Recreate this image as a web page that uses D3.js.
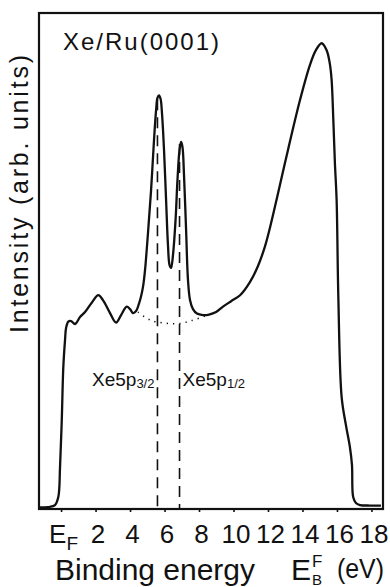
<!DOCTYPE html>
<html>
<head>
<meta charset="utf-8">
<script src="https://cdn.jsdelivr.net/npm/d3@7"></script>
<style>
  html, body { margin: 0; padding: 0; background: #fff; }
  svg { display: block; }
  text { fill: #111; font-family: "Liberation Sans", Arial, sans-serif; }
</style>
</head>
<body>
<svg id="chart" width="390" height="587"></svg>
<script>
// Photoemission spectrum of Xe adsorbed on Ru(0001)
const energy = [
  -1.28, -0.75, -0.35, -0.16, -0.06, 0.04, 0.13, 0.23, 0.29, 0.42, 0.58, 0.81,
  1.10, 1.39, 1.80, 2.16, 2.43, 2.84, 3.19, 3.48, 3.81, 4.00, 4.17, 4.35, 4.49,
  4.64, 4.77, 4.87, 5.04, 5.22, 5.39, 5.51, 5.59, 5.68, 5.77, 5.86, 5.97, 6.09,
  6.20, 6.29, 6.38, 6.49, 6.64, 6.75, 6.87, 6.96, 7.04, 7.13, 7.25, 7.36, 7.48,
  7.65, 7.88, 8.23, 8.58, 8.99, 9.39, 9.86, 10.38, 10.96, 11.42, 11.83, 12.17,
  12.52, 13.16, 13.86, 14.43, 14.78, 15.11, 15.40, 15.59, 15.69, 15.79, 15.88,
  15.98, 16.08, 16.27, 16.52, 16.75, 16.87, 16.94, 17.10, 17.33, 17.91, 18.55
];
const intensity = [
  0.3, 0.4, 0.8, 2.4, 8.5, 17.9, 28.6, 34.1, 36.5, 37.8, 37.9, 37.3,
  38.7, 39.7, 41.7, 43.1, 42.1, 39.5, 37.6, 39.1, 40.8, 40.3, 39.5, 39.9, 41.1,
  42.9, 45.2, 48.2, 55.6, 64.3, 74.4, 80.4, 82.9, 83.4, 82.7, 79.4, 72.4, 62.3,
  53.2, 49.2, 48.6, 51.2, 58.3, 66.3, 72.4, 74.0, 73.0, 67.3, 56.3, 46.2, 42.1,
  40.3, 39.4, 39.1, 39.2, 39.7, 40.8, 41.9, 43.1, 45.8, 49.0, 53.0, 57.5,
  62.7, 72.4, 82.5, 89.5, 92.5, 93.9, 92.5, 89.7, 86.5, 78.4, 69.8,
  62.3, 42.7, 22.6, 16.9, 12.5, 8.9, 2.4, 1.2, 0.8, 0.7, 0.7
];

// Estimated secondary background beneath the Xe 5p doublet
const bgEnergy = [4.46, 5.16, 5.74, 6.32, 6.90, 7.59, 8.52];
const bgIntensity = [39.7, 38.1, 37.6, 37.4, 37.4, 38.0, 39.1];

// Xe 5p spin-orbit components
const peakEnergy = [5.59, 6.87];
const peakTop = [82.6, 73.6];
const peakJ = ["3/2", "1/2"];

// Energy axis
const tickValues = [0, 2, 4, 6, 8, 10, 12, 14, 16, 18];
const tickLabels = ["E", "2", "4", "6", "8", "10", "12", "14", "16", "18"];
const energyExtent = [-1.28, 18.67];
const intensityExtent = [0, 100];

const svg = d3.select("#chart");
const frame = { left: 39, right: 383, top: 13, bottom: 509 };

const x = d3.scaleLinear().domain(energyExtent).range([frame.left, frame.right]);
const y = d3.scaleLinear().domain(intensityExtent).range([frame.bottom, frame.top]);

// dashed markers at the doublet positions
svg.append("g")
  .selectAll("line")
  .data(peakEnergy)
  .join("line")
  .attr("x1", d => x(d)).attr("x2", d => x(d))
  .attr("y1", (d, i) => y(peakTop[i]))
  .attr("y2", y(0))
  .attr("stroke", "#111")
  .attr("stroke-width", 1.6)
  .attr("stroke-dasharray", "11,7");

// background (dotted)
svg.append("path")
  .datum(d3.zip(bgEnergy, bgIntensity))
  .attr("fill", "none")
  .attr("stroke", "#111")
  .attr("stroke-width", 1.5)
  .attr("stroke-dasharray", "1.3,5")
  .attr("d", d3.line().x(d => x(d[0])).y(d => y(d[1])).curve(d3.curveCatmullRom.alpha(0.5)));

// spectrum
svg.append("path")
  .datum(d3.zip(energy, intensity))
  .attr("fill", "none")
  .attr("stroke", "#111")
  .attr("stroke-width", 2.3)
  .attr("stroke-linejoin", "round")
  .attr("d", d3.line().x(d => x(d[0])).y(d => y(d[1])).curve(d3.curveCatmullRom.alpha(0.5)));

// frame
svg.append("rect")
  .attr("x", frame.left).attr("y", frame.top)
  .attr("width", frame.right - frame.left)
  .attr("height", frame.bottom - frame.top)
  .attr("fill", "none")
  .attr("stroke", "#111")
  .attr("stroke-width", 2.2);

// bottom axis
const axis = d3.axisBottom(x)
  .tickValues(tickValues)
  .tickSize(3)
  .tickSizeOuter(0)
  .tickPadding(14)
  .tickFormat((d, i) => tickLabels[i]);

const gx = svg.append("g")
  .attr("transform", `translate(0,${frame.bottom})`)
  .call(axis);
gx.select(".domain").remove();
gx.selectAll(".tick line").attr("stroke", "#111").attr("stroke-width", 1.6);
gx.selectAll(".tick text")
  .attr("fill", "#111")
  .attr("dx", 2)
  .attr("y", 34)
  .attr("dy", 0)
  .style("font-family", "'Liberation Sans Narrow', 'Arial Narrow', 'Liberation Sans', sans-serif")
  .style("font-size", "26px");
// Fermi level label: E with subscript F
gx.selectAll(".tick text")
  .filter(d => d === 0)
  .append("tspan")
  .attr("dy", 7)
  .style("font-size", "19px")
  .text("F");

// panel title
svg.append("text")
  .attr("x", 63).attr("y", 50)
  .attr("textLength", 156)
  .attr("lengthAdjust", "spacing")
  .style("font-size", "24px")
  .text("Xe/Ru(0001)");

// y-axis title
svg.append("text")
  .attr("transform", `translate(28,${(55 + 333) / 2}) rotate(-90)`)
  .attr("text-anchor", "middle")
  .attr("textLength", 278)
  .attr("lengthAdjust", "spacing")
  .style("font-size", "25px")
  .text("Intensity (arb. units)");

// x-axis title
svg.append("text")
  .attr("x", 55).attr("y", 580)
  .attr("textLength", 200)
  .attr("lengthAdjust", "spacing")
  .style("font-size", "30px")
  .text("Binding energy");
svg.append("text")
  .attr("x", 291).attr("y", 580)
  .style("font-size", "30px")
  .text("E");
svg.append("text")
  .attr("x", 312).attr("y", 567)
  .style("font-size", "17px")
  .text("F");
svg.append("text")
  .attr("x", 312).attr("y", 585)
  .style("font-size", "15px")
  .text("B");
svg.append("text")
  .attr("x", 337).attr("y", 578)
  .attr("textLength", 47)
  .attr("lengthAdjust", "spacingAndGlyphs")
  .style("font-size", "27px")
  .text("(eV)");

// doublet labels
const labelY = y(24.8);
const lbl = svg.append("g")
  .selectAll("text")
  .data(peakEnergy)
  .join("text")
  .attr("x", (d, i) => i === 0 ? x(d) - 3 : x(d) + 3)
  .attr("y", labelY)
  .attr("text-anchor", (d, i) => i === 0 ? "end" : "start")
  .style("font-size", "19px");
lbl.append("tspan").text("Xe5p");
lbl.append("tspan")
  .attr("dy", 2)
  .style("font-size", "13px")
  .text((d, i) => peakJ[i]);
</script>
</body>
</html>
